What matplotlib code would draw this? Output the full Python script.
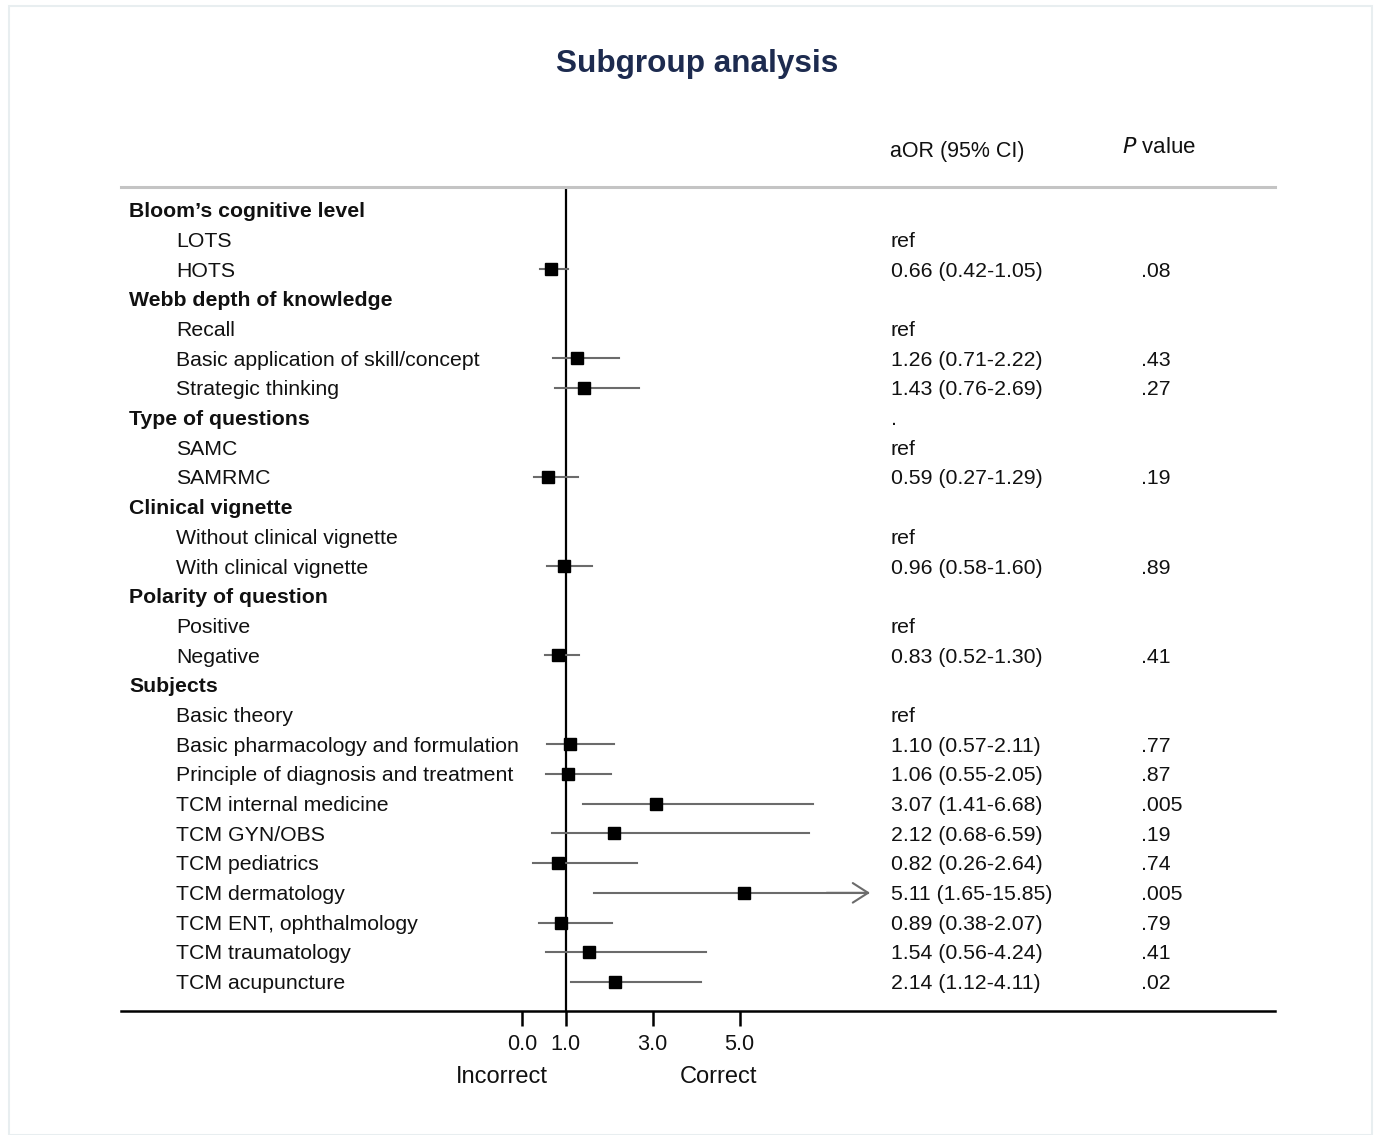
"""
Forest plot of subgroup adjusted odds ratios (Stata-like layout).
"""
import matplotlib.pyplot as plt
from matplotlib.patches import Rectangle

plt.rcParams["font.family"] = ["Liberation Sans", "DejaVu Sans"]

# --- data ---
LABELS = [
    "Bloom\u2019s cognitive level", "LOTS", "HOTS",
    "Webb depth of knowledge", "Recall", "Basic application of skill/concept", "Strategic thinking",
    "Type of questions", "SAMC", "SAMRMC",
    "Clinical vignette", "Without clinical vignette", "With clinical vignette",
    "Polarity of question", "Positive", "Negative",
    "Subjects", "Basic theory", "Basic pharmacology and formulation",
    "Principle of diagnosis and treatment", "TCM internal medicine", "TCM GYN/OBS",
    "TCM pediatrics", "TCM dermatology", "TCM ENT, ophthalmology",
    "TCM traumatology", "TCM acupuncture",
]
IS_HEADER = [1, 0, 0, 1, 0, 0, 0, 1, 0, 0, 1, 0, 0, 1, 0, 0, 1, 0, 0, 0, 0, 0, 0, 0, 0, 0, 0]
AOR = [None, None, 0.66, None, None, 1.26, 1.43, None, None, 0.59, None, None, 0.96,
       None, None, 0.83, None, None, 1.10, 1.06, 3.07, 2.12, 0.82, 5.11, 0.89, 1.54, 2.14]
LOWER = [None, None, 0.42, None, None, 0.71, 0.76, None, None, 0.27, None, None, 0.58,
         None, None, 0.52, None, None, 0.57, 0.55, 1.41, 0.68, 0.26, 1.65, 0.38, 0.56, 1.12]
UPPER = [None, None, 1.05, None, None, 2.22, 2.69, None, None, 1.29, None, None, 1.60,
         None, None, 1.30, None, None, 2.11, 2.05, 6.68, 6.59, 2.64, 15.85, 2.07, 4.24, 4.11]
CI_TEXT = ["", "ref", "0.66 (0.42-1.05)", "", "ref", "1.26 (0.71-2.22)", "1.43 (0.76-2.69)",
           ".", "ref", "0.59 (0.27-1.29)", "", "ref", "0.96 (0.58-1.60)",
           "", "ref", "0.83 (0.52-1.30)", "", "ref", "1.10 (0.57-2.11)", "1.06 (0.55-2.05)",
           "3.07 (1.41-6.68)", "2.12 (0.68-6.59)", "0.82 (0.26-2.64)", "5.11 (1.65-15.85)",
           "0.89 (0.38-2.07)", "1.54 (0.56-4.24)", "2.14 (1.12-4.11)"]
P_TEXT = ["", "", ".08", "", "", ".43", ".27", "", "", ".19", "", "", ".89",
          "", "", ".41", "", "", ".77", ".87", ".005", ".19", ".74", ".005", ".79", ".41", ".02"]
XTICKS = [0, 1, 3, 5]
CI_MAX = 8.0  # CIs beyond this are drawn as arrows

W, H = 1378, 1135
TXT = "#111111"
CI_GREY = "#6b6b6b"
NAVY = "#1d2b4f"
FS = 15.3


def fx(x):
    return x / W


def fy(y):
    return 1 - y / H


fig = plt.figure(figsize=(W / 100, H / 100), dpi=100)
fig.patches.append(Rectangle((fx(9), fy(1135)), fx(1363), fy(6) - fy(1135), transform=fig.transFigure,
                             fill=False, edgecolor="#e8eef0", linewidth=1.5))

ax = fig.add_axes([fx(121), fy(1011), fx(1154), (1011 - 187) / H])
# x: value v sits at pixel 522 + 43.5 v
ax.set_xlim((121 - 522) / 43.5, (1275 - 522) / 43.5)
n = len(LABELS)
ax.set_ylim(26.98, -0.775)

for s in ["left", "right"]:
    ax.spines[s].set_visible(False)
ax.spines["top"].set_color("#c4c4c4")
ax.spines["top"].set_linewidth(2.2)
ax.spines["bottom"].set_color("black")
ax.spines["bottom"].set_linewidth(1.8)
ax.set_yticks([])
ax.set_xticks(XTICKS)
ax.set_xticklabels([f"{t:.1f}" for t in XTICKS], fontsize=15.6, color=TXT)
ax.tick_params(axis="x", length=11, width=1.8, pad=5.5, direction="out")

ax.axvline(1, color="black", linewidth=1.6, zorder=2)

YOFF = 0.06  # nudge text slightly down to match reference baseline
for i in range(n):
    lab_x = 0.007 if IS_HEADER[i] else 0.048
    ax.text(lab_x, i + YOFF, LABELS[i], transform=ax.get_yaxis_transform(), fontsize=FS,
            fontweight="bold" if IS_HEADER[i] else "normal", color=TXT, va="center")
    if CI_TEXT[i]:
        ax.text(0.667, i + YOFF, CI_TEXT[i], transform=ax.get_yaxis_transform(), fontsize=FS,
                color=TXT, va="center")
    if P_TEXT[i]:
        ax.text(0.884, i + YOFF, P_TEXT[i], transform=ax.get_yaxis_transform(), fontsize=FS,
                color=TXT, va="center")
    if AOR[i] is not None:
        if UPPER[i] > CI_MAX:
            ax.plot([LOWER[i], CI_MAX - 0.05], [i, i], color=CI_GREY, linewidth=1.5, zorder=3)
            ax.annotate("", xy=(CI_MAX, i), xytext=(CI_MAX - 1, i),
                        arrowprops=dict(arrowstyle="->,head_length=0.5,head_width=0.32",
                                        color=CI_GREY, lw=1.5, mutation_scale=22,
                                        shrinkA=0, shrinkB=0), zorder=3)
        else:
            ax.plot([LOWER[i], UPPER[i]], [i, i], color=CI_GREY, linewidth=1.5, zorder=3)
        ax.plot(AOR[i], i, marker="s", markersize=8.5, color="black", zorder=4)

fig.text(fx(697), fy(64), "Subgroup analysis", fontsize=22.7, fontweight="bold", color=NAVY,
         ha="center", va="center")
fig.text(fx(890), fy(151), "aOR (95% CI)", fontsize=15.5, color=TXT, va="center")
fig.text(fx(1122), fy(148), "$\\it{P}$ value", fontsize=16, color=TXT, va="center")
fig.text(fx(502), fy(1077), "Incorrect", fontsize=17, color=TXT, ha="center", va="center")
fig.text(fx(718), fy(1077), "Correct", fontsize=17, color=TXT, ha="center", va="center")

fig.savefig("out.png", dpi=100, facecolor="white")
